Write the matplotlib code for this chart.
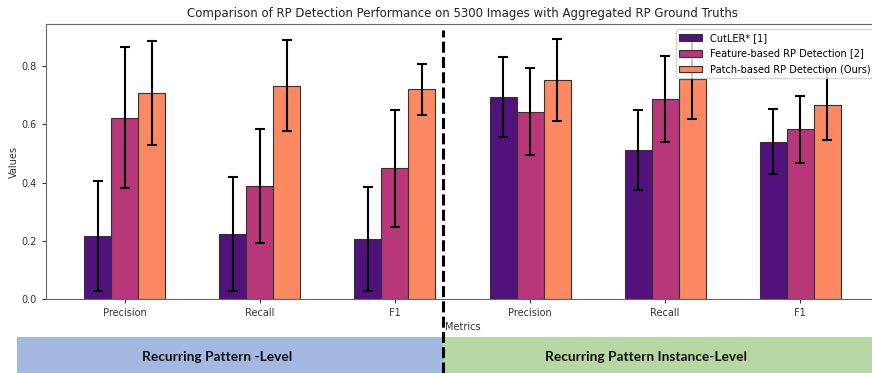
import matplotlib
matplotlib.use("Agg")
import matplotlib.pyplot as plt
import numpy as np
from matplotlib.patches import Rectangle
from matplotlib.lines import Line2D

metrics = ["Precision", "Recall", "F1", "Precision", "Recall", "F1"]
series_names = ["CutLER* [1]", "Feature-based RP Detection [2]", "Patch-based RP Detection (Ours)"]
cutler = [0.216, 0.223, 0.206, 0.694, 0.513, 0.541]
cutler_err = [0.190, 0.196, 0.180, 0.136, 0.137, 0.112]
feature = [0.623, 0.388, 0.449, 0.644, 0.686, 0.583]
feature_err = [0.242, 0.196, 0.200, 0.149, 0.148, 0.114]
patch = [0.708, 0.733, 0.720, 0.753, 0.757, 0.667]
patch_err = [0.178, 0.156, 0.089, 0.141, 0.140, 0.120]
colors = ["#51127c", "#b73779", "#fc8961"]
band_labels = ["Recurring Pattern -Level", "Recurring Pattern Instance-Level"]

fig = plt.figure(figsize=(8.72, 3.73), dpi=100)
ax = fig.add_axes([46/872, 1-299/373, 833/872, (299-24)/373])

x = np.arange(len(metrics))
w = 0.2
for i, (vals, errs) in enumerate([(cutler, cutler_err), (feature, feature_err), (patch, patch_err)]):
    ax.bar(x + (i-1)*w, vals, w, yerr=errs, color=colors[i], edgecolor="#333333",
           linewidth=0.8, capsize=3.5, label=series_names[i],
           error_kw=dict(elinewidth=1.5, capthick=1.5, ecolor="black"))

ax.set_xlim(-0.585, 5.585)
ax.set_ylim(0, 0.945)
ax.set_xticks(x)
ax.set_xticklabels(metrics)
ax.set_yticks([0.0, 0.2, 0.4, 0.6, 0.8])
ax.tick_params(labelsize=7, colors="#333333", length=3)
for s in ax.spines.values():
    s.set_color("#666666")
ax.set_ylabel("Values", fontsize=7, color="#333333", labelpad=2)
ax.set_xlabel("Metrics", fontsize=7, color="#333333", labelpad=3)
ax.set_title("Comparison of RP Detection Performance on 5300 Images with Aggregated RP Ground Truths",
             fontsize=8.5, color="#222222", pad=5)
ax.legend(loc="upper right", fontsize=7, framealpha=0.8, borderaxespad=0.5,
          handlelength=2.3, labelspacing=0.6)

# bottom bands
fig.patches.append(Rectangle((17/872, 0), (443-17)/872, 36/373, transform=fig.transFigure,
                             facecolor="#a3b9e0", edgecolor="none", zorder=0))
fig.patches.append(Rectangle((443/872, 0), (872-443)/872, 36/373, transform=fig.transFigure,
                             facecolor="#b7d7a5", edgecolor="none", zorder=0))
fig.text(217/872, 1-357/373, band_labels[0], ha="center", va="center",
         fontsize=9.9, fontweight="bold", family="Lato", color="#111111")
fig.text(646/872, 1-357/373, band_labels[1], ha="center", va="center",
         fontsize=9.9, fontweight="bold", family="Lato", color="#111111")

fig.lines.append(Line2D([443/872, 443/872], [0, 1-30/373], transform=fig.transFigure,
                        color="black", linewidth=2.2, linestyle=(0, (3.6, 1.4)), zorder=10))

fig.savefig("out.png", dpi=100)
